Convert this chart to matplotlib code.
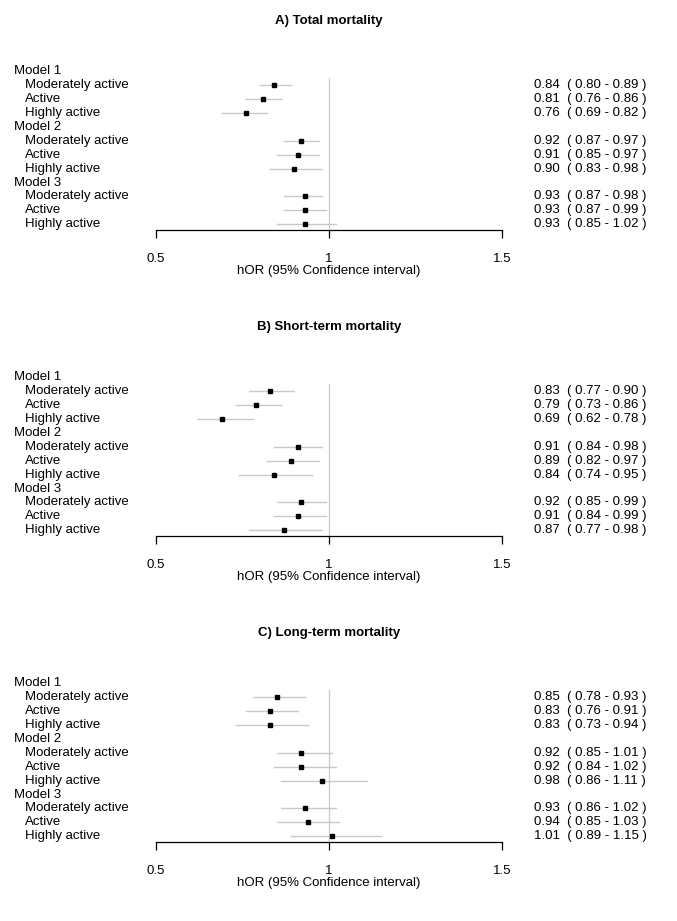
import matplotlib
matplotlib.use("Agg")
import matplotlib.pyplot as plt

plt.rcParams["font.family"] = ["Liberation Sans", "DejaVu Sans"]
FS = 9.5
W, H = 677, 921
GREY = "#c8c8c8"

# ---------- data ----------
TITLES = ["A) Total mortality", "B) Short-term mortality", "C) Long-term mortality"]
MODELS = ["Model 1", "Model 2", "Model 3"]
LEVELS = ["Moderately active", "Active", "Highly active"]

total_or = [0.84, 0.81, 0.76, 0.92, 0.91, 0.90, 0.93, 0.93, 0.93]
total_lo = [0.80, 0.76, 0.69, 0.87, 0.85, 0.83, 0.87, 0.87, 0.85]
total_hi = [0.89, 0.86, 0.82, 0.97, 0.97, 0.98, 0.98, 0.99, 1.02]

short_or = [0.83, 0.79, 0.69, 0.91, 0.89, 0.84, 0.92, 0.91, 0.87]
short_lo = [0.77, 0.73, 0.62, 0.84, 0.82, 0.74, 0.85, 0.84, 0.77]
short_hi = [0.90, 0.86, 0.78, 0.98, 0.97, 0.95, 0.99, 0.99, 0.98]

long_or = [0.85, 0.83, 0.83, 0.92, 0.92, 0.98, 0.93, 0.94, 1.01]
long_lo = [0.78, 0.76, 0.73, 0.85, 0.84, 0.86, 0.86, 0.85, 0.89]
long_hi = [0.93, 0.91, 0.94, 1.01, 1.02, 1.11, 1.02, 1.03, 1.15]

PANELS = [(total_or, total_lo, total_hi),
          (short_or, short_lo, short_hi),
          (long_or, long_lo, long_hi)]
XTICKS = [0.5, 1, 1.5]
XTICKLABELS = ["0.5", "1", "1.5"]

fig = plt.figure(figsize=(W / 100, H / 100), dpi=100)

# pixel layout
X05, PX_PER = 156, 346.0          # pixel of 0.5 and pixels per unit hOR
ROW0, STEP = 71, 13.94            # first row ("Model 1") y-pixel and row step
AXIS_OFF = 230 - 71               # axis line below first row
PERIOD = 306                      # vertical distance between panels

def fx(px): return px / W
def fy(py): return 1 - py / H

xmin = 0.5 - X05 / PX_PER
xmax = 0.5 + (W - X05) / PX_PER

for k, ((est, lo, hi), title) in enumerate(zip(PANELS, TITLES)):
    off = k * PERIOD
    top_px = 45 + off
    bot_px = ROW0 + AXIS_OFF + off
    ax = fig.add_axes([0, fy(bot_px), 1, (bot_px - top_px) / H])
    ax.set_xlim(xmin, xmax)
    # rows: y in row units, 0 = "Model 1"
    ylo = (bot_px - (ROW0 + off)) / STEP
    yhi = -((ROW0 + off) - top_px) / STEP
    ax.set_ylim(ylo, yhi)
    ax.patch.set_alpha(0)
    for s in ("top", "right", "left"):
        ax.spines[s].set_visible(False)
    ax.spines["bottom"].set_bounds(0.5, 1.5)
    ax.spines["bottom"].set_linewidth(0.9)
    ax.set_yticks([])
    ax.set_xticks(XTICKS)
    ax.set_xticklabels(XTICKLABELS, fontsize=FS)
    ax.tick_params(axis="x", length=5.5, width=0.9, pad=11)

    ax.plot([1, 1], [0.5, ylo], color=GREY, lw=0.9, zorder=1)

    rows, labels, indent = [], [], []
    r = 0
    for m, model in enumerate(MODELS):
        labels.append(model); indent.append(False); rows.append(r); r += 1
        for j, lev in enumerate(LEVELS):
            i = m * 3 + j
            ax.plot([lo[i], hi[i]], [r, r], color=GREY, lw=1.0, zorder=2)
            ax.plot([est[i]], [r], "s", color="black", ms=3.2, zorder=3)
            ax.text(fx(534), r, f"{est[i]:.2f}  ( {lo[i]:.2f} - {hi[i]:.2f} )",
                    transform=ax.get_yaxis_transform().__class__(fig.transFigure, ax.transData)
                    if False else matplotlib.transforms.blended_transform_factory(fig.transFigure, ax.transData),
                    ha="left", va="center", fontsize=FS)
            labels.append(lev); indent.append(True); rows.append(r); r += 1
    tr = matplotlib.transforms.blended_transform_factory(fig.transFigure, ax.transData)
    for lab, ind, y in zip(labels, indent, rows):
        ax.text(fx(25 if ind else 14), y, lab, transform=tr, ha="left",
                va="center", fontsize=FS)

    fig.text(fx(X05 + 0.5 * PX_PER), fy(21 + off), title, ha="center",
             va="center", fontsize=FS, fontweight="bold")
    fig.text(fx(X05 + 0.5 * PX_PER), fy(271 + off), "hOR (95% Confidence interval)",
             ha="center", va="center", fontsize=FS)

fig.savefig("out.png", dpi=100)
